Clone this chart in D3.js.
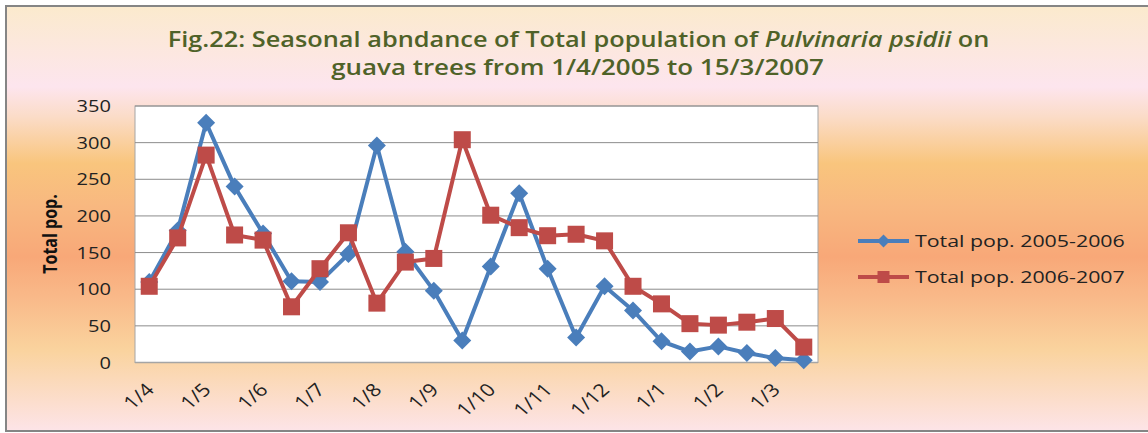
<!DOCTYPE html>
<html lang="en">
<head>
  <meta charset="UTF-8">
  <title>Seasonal abundance of Pulvinaria psidii</title>
  <script src="https://d3js.org/d3.v7.min.js"></script>
  <style>
    body { margin: 0; background: #fff; }
    text { font-family: "Open Sans", "DejaVu Sans", sans-serif; }
    .tick-label { font-size: 17px; fill: #222; }
    .x-label { font-size: 18px; fill: #222; }
    .title { font-size: 21px; font-weight: 600; fill: #4f6228; text-anchor: middle; }
    .axis-title { font-size: 16px; font-weight: bold; fill: #111; text-anchor: middle; }
    .legend-label { font-size: 17px; fill: #222; }
  </style>
</head>
<body>
  <div id="chart"></div>
  <script>
    // semi-monthly sampling dates, 1/4 to 15/3
    const categories = ["1/4","15/4","1/5","15/5","1/6","15/6","1/7","15/7","1/8","15/8","1/9","15/9",
                        "1/10","15/10","1/11","15/11","1/12","15/12","1/1","15/1","1/2","15/2","1/3","15/3"];
    const pop0506 = [110,180,327,240,176,111,110,148,296,151,98,30,131,231,128,34,104,71,29,15,22,13,6,3];
    const pop0607 = [104,170,283,174,167,76,128,177,81,137,142,304,201,184,173,175,166,104,80,53,51,55,60,21];
    const seriesNames = ["Total pop. 2005-2006", "Total pop. 2006-2007"];
    const yTicks = [0,50,100,150,200,250,300,350];

    const W = 1148, H = 433;
    const plot = { left: 135, right: 818, top: 106, bottom: 362.5 };
    const stretch = 1.18; // the original picture is drawn a bit wide

    const svg = d3.select("#chart").append("svg")
      .attr("width", W).attr("height", H);

    // background gradient
    const grad = svg.append("defs").append("linearGradient")
      .attr("id", "bg").attr("x1", 0).attr("y1", 0).attr("x2", 0).attr("y2", 1);
    [[0, "#fbeacd"], [0.19, "#fde5ee"], [0.26, "#fbdcc8"], [0.37, "#f9c57d"],
     [0.47, "#f8b880"], [0.59, "#f8a878"], [0.68, "#f9b888"], [0.81, "#fad39e"], [1, "#fde4e8"]]
      .forEach(([o, c]) => grad.append("stop").attr("offset", o).attr("stop-color", c));

    svg.append("rect").attr("x", 0).attr("y", 0).attr("width", W).attr("height", H).attr("fill", "#fff");
    svg.append("rect")
      .attr("x", 6).attr("y", 6).attr("width", W + 10).attr("height", 425)
      .attr("fill", "url(#bg)").attr("stroke", "#858585").attr("stroke-width", 2);

    // helper: squeeze / widen text horizontally around its anchor
    function scaleText(sel, k) {
      sel.each(function () {
        const t = d3.select(this), x = +t.attr("x"), y = +t.attr("y");
        t.attr("transform", `translate(${x},${y}) scale(${k},1) translate(${-x},${-y})`);
      });
    }
    function fitText(sel, width) {
      sel.each(function () {
        const w = this.getComputedTextLength();
        scaleText(d3.select(this), width / w);
      });
    }

    // title
    const t1 = svg.append("text").attr("class", "title").attr("x", 578.5).attr("y", 47);
    t1.append("tspan").text("Fig.22: Seasonal abndance of Total population of ");
    t1.append("tspan").attr("font-style", "italic").text("Pulvinaria psidii");
    t1.append("tspan").text(" on");
    fitText(t1, 822);
    const t2 = svg.append("text").attr("class", "title").attr("x", 577.5).attr("y", 75)
      .text("guava trees from 1/4/2005 to 15/3/2007");
    fitText(t2, 493);

    // scales
    const x = d3.scalePoint().domain(categories).range([plot.left, plot.right]).padding(0.5);
    const y = d3.scaleLinear().domain([0, 350]).range([plot.bottom, plot.top]);

    // plot area
    svg.append("rect")
      .attr("x", plot.left).attr("y", plot.top)
      .attr("width", plot.right - plot.left).attr("height", plot.bottom - plot.top)
      .attr("fill", "#fff").attr("stroke", "#a5a5a5").attr("stroke-width", 1);

    // gridlines
    svg.append("g").selectAll("line")
      .data(yTicks.filter(d => d > 0))
      .enter().append("line")
      .attr("x1", plot.left).attr("x2", plot.right)
      .attr("y1", d => y(d)).attr("y2", d => y(d))
      .attr("stroke", "#8c8c8c").attr("stroke-width", 1);

    svg.append("line")
      .attr("x1", plot.left).attr("x2", plot.right)
      .attr("y1", plot.bottom).attr("y2", plot.bottom)
      .attr("stroke", "#a5a5a5").attr("stroke-width", 1.5);

    // y axis labels
    svg.append("g").selectAll("text")
      .data(yTicks)
      .enter().append("text")
      .attr("class", "tick-label")
      .attr("x", 111).attr("y", d => y(d))
      .attr("dy", "0.36em")
      .attr("text-anchor", "end")
      .text(d => d)
      .call(scaleText, stretch);

    // y axis title
    svg.append("text")
      .attr("class", "axis-title")
      .attr("transform", `translate(57,234) scale(${stretch},1) rotate(-90)`)
      .text("Total pop.");

    // x axis labels (every other date)
    svg.append("g").selectAll("text")
      .data(categories.filter((d, i) => i % 2 === 0))
      .enter().append("text")
      .attr("class", "x-label")
      .attr("text-anchor", "end")
      .attr("transform", d => `translate(${x(d) + 6},391) scale(${stretch},1) rotate(-45)`)
      .text(d => d);

    // series
    const series = [
      { name: seriesNames[0], values: pop0506, color: "#4a7ebb", marker: "diamond" },
      { name: seriesNames[1], values: pop0607, color: "#be4b48", marker: "square" }
    ];
    const line = d3.line().x((d, i) => x(categories[i])).y(d => y(d));

    function drawMarker(g, type, color, s) {
      if (type === "diamond") {
        g.append("path")
          .attr("d", `M0,${-s}L${s},0L0,${s}L${-s},0Z`)
          .attr("fill", color);
      } else {
        g.append("rect")
          .attr("x", -s).attr("y", -s).attr("width", 2 * s).attr("height", 2 * s)
          .attr("fill", color);
      }
    }

    series.forEach(s => {
      svg.append("path")
        .datum(s.values)
        .attr("fill", "none")
        .attr("stroke", s.color)
        .attr("stroke-width", 4)
        .attr("stroke-linejoin", "round")
        .attr("d", line);
      svg.append("g").selectAll("g")
        .data(s.values)
        .enter().append("g")
        .attr("transform", (d, i) => `translate(${x(categories[i])},${y(d)})`)
        .each(function () { drawMarker(d3.select(this), s.marker, s.color, s.marker === "diamond" ? 9 : 8.5); });
    });

    // legend
    const legend = svg.append("g").selectAll("g")
      .data(series)
      .enter().append("g")
      .attr("transform", (d, i) => `translate(858,${241 + i * 36})`);
    legend.append("line")
      .attr("x1", 0).attr("x2", 51)
      .attr("stroke", d => d.color).attr("stroke-width", 4);
    legend.each(function (d) {
      const g = d3.select(this).append("g").attr("transform", "translate(25.5,0)");
      drawMarker(g, d.marker, d.color, d.marker === "diamond" ? 6.5 : 6);
    });
    legend.append("text")
      .attr("class", "legend-label")
      .attr("x", 57).attr("y", 0).attr("dy", "0.36em")
      .text(d => d.name)
      .call(fitText, 210);
  </script>
</body>
</html>
